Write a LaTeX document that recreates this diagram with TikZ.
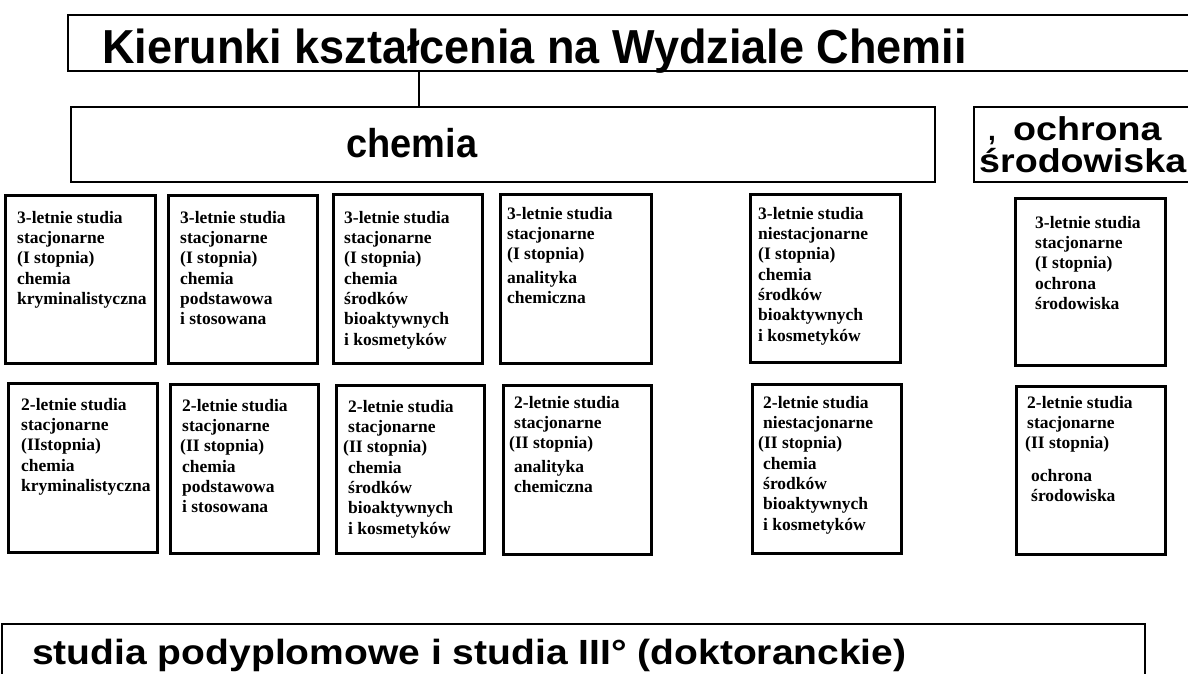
\documentclass[tikz,border=0pt]{standalone}
\usepackage{fontspec}
\setmainfont{Liberation Serif}
\newfontfamily\headfont{Liberation Sans}
\usetikzlibrary{calc}
\tikzset{
  bigbox/.style={draw, line width=2.2pt, anchor=north west, inner sep=0, outer sep=0},
  smallbox/.style={draw, line width=3pt, anchor=north west, inner sep=0, outer sep=0},
  smalltext/.style={anchor=north west, inner sep=0, align=left,
    font=\fontsize{17.5}{20.3}\selectfont\bfseries},
  headtext/.style={anchor=base west, inner sep=0},
  link/.style={draw, line width=1.8pt},
}
\begin{document}
\begin{tikzpicture}[x=1pt, y=-1pt]
\useasboundingbox (0,0) rectangle (1188,673);
\clip (0,0) rectangle (1188,673);
\fill[white] (0,0) rectangle (1188,673);

% headline boxes
\node[bigbox, minimum width=1200pt, minimum height=56pt] (title) at (68,15) {};
\node[headtext] (titletext) at (102,63)
  {\scalebox{1}[1.06]{\headfont\bfseries\fontsize{45}{45}\selectfont Kierunki kształcenia na Wydziale Chemii}};

\node[bigbox, minimum width=864pt, minimum height=75pt] (chem) at (71,107) {};
\node[headtext] (chemtext) at (346,157)
  {\scalebox{1}[1.06]{\headfont\bfseries\fontsize{38}{38}\selectfont chemia}};

\node[bigbox, minimum width=300pt, minimum height=75pt] (ochr) at (974,107) {};
\node[headtext] (ochrtext1) at (1013,140)
  {\scalebox{1.14}[1]{\headfont\bfseries\fontsize{33}{33}\selectfont ochrona}};
\node[headtext] (ochrtext2) at (979,172)
  {\scalebox{1.14}[1]{\headfont\bfseries\fontsize{33}{33}\selectfont środowiska}};
\node[headtext] (ochrcomma) at (988,140)
  {\headfont\bfseries\fontsize{28}{28}\selectfont ,};

\coordinate (cx) at (419,0);
\draw[link] (title.south -| cx) -- (chem.north -| cx);

% row 1
\node[smallbox, minimum width=150pt, minimum height=168pt] (a1) at (5,195) {};
\node[smalltext] (a1t) at (17,211) {3-letnie studia\\stacjonarne\\(I stopnia)\\chemia\\kryminalistyczna};

\node[smallbox, minimum width=149pt, minimum height=168pt] (a2) at (168,195) {};
\node[smalltext] (a2t) at (180,211) {3-letnie studia\\stacjonarne\\(I stopnia)\\chemia\\podstawowa\\i stosowana};

\node[smallbox, minimum width=149pt, minimum height=169pt] (a3) at (333,194) {};
\node[smalltext] (a3t) at (344,211) {3-letnie studia\\stacjonarne\\(I stopnia)\\chemia\\środków\\bioaktywnych\\i kosmetyków};

\node[smallbox, minimum width=151pt, minimum height=169pt] (a4) at (500,194) {};
\node[smalltext] (a4t) at (507,207) {3-letnie studia\\stacjonarne\\(I stopnia)\\[3pt]analityka\\chemiczna};

\node[smallbox, minimum width=150pt, minimum height=168pt] (a5) at (750,194) {};
\node[smalltext] (a5t) at (758,207) {3-letnie studia\\niestacjonarne\\(I stopnia)\\chemia\\środków\\bioaktywnych\\i kosmetyków};

\node[smallbox, minimum width=150pt, minimum height=167pt] (a6) at (1015,198) {};
\node[smalltext] (a6t) at (1035,216) {3-letnie studia\\stacjonarne\\(I stopnia)\\ochrona\\środowiska};

% row 2
\node[smallbox, minimum width=149pt, minimum height=169pt] (b1) at (8,383) {};
\node[smalltext] (b1t) at (21,398) {2-letnie studia\\stacjonarne\\(IIstopnia)\\chemia\\kryminalistyczna};

\node[smallbox, minimum width=148pt, minimum height=169pt] (b2) at (170,384) {};
\node[smalltext] (b2t) at (180,399) {\hspace{2pt}2-letnie studia\\\hspace{2pt}stacjonarne\\(II stopnia)\\\hspace{2pt}chemia\\\hspace{2pt}podstawowa\\\hspace{2pt}i stosowana};

\node[smallbox, minimum width=148pt, minimum height=168pt] (b3) at (336,385) {};
\node[smalltext] (b3t) at (343,400) {\hspace{5pt}2-letnie studia\\\hspace{5pt}stacjonarne\\(II stopnia)\\\hspace{5pt}chemia\\\hspace{5pt}środków\\\hspace{5pt}bioaktywnych\\\hspace{5pt}i kosmetyków};

\node[smallbox, minimum width=148pt, minimum height=169pt] (b4) at (503,385) {};
\node[smalltext] (b4t) at (509,396) {\hspace{5pt}2-letnie studia\\\hspace{5pt}stacjonarne\\(II stopnia)\\[3pt]\hspace{5pt}analityka\\\hspace{5pt}chemiczna};

\node[smallbox, minimum width=149pt, minimum height=169pt] (b5) at (752,384) {};
\node[smalltext] (b5t) at (758,396) {\hspace{5pt}2-letnie studia\\\hspace{5pt}niestacjonarne\\(II stopnia)\\\hspace{5pt}chemia\\\hspace{5pt}środków\\\hspace{5pt}bioaktywnych\\\hspace{5pt}i kosmetyków};

\node[smallbox, minimum width=149pt, minimum height=168pt] (b6) at (1016,386) {};
\node[smalltext] (b6t) at (1025,396) {\hspace{2pt}2-letnie studia\\\hspace{2pt}stacjonarne\\(II stopnia)\\[12pt]\hspace{6pt}ochrona\\\hspace{6pt}środowiska};

% bottom
\node[bigbox, minimum width=1143pt, minimum height=80pt] (pod) at (2,624) {};
\node[headtext] (podtext) at (32,664)
  {\scalebox{1.115}[1]{\headfont\bfseries\fontsize{35}{35}\selectfont studia podyplomowe i studia III° (doktoranckie)}};
\end{tikzpicture}
\end{document}
